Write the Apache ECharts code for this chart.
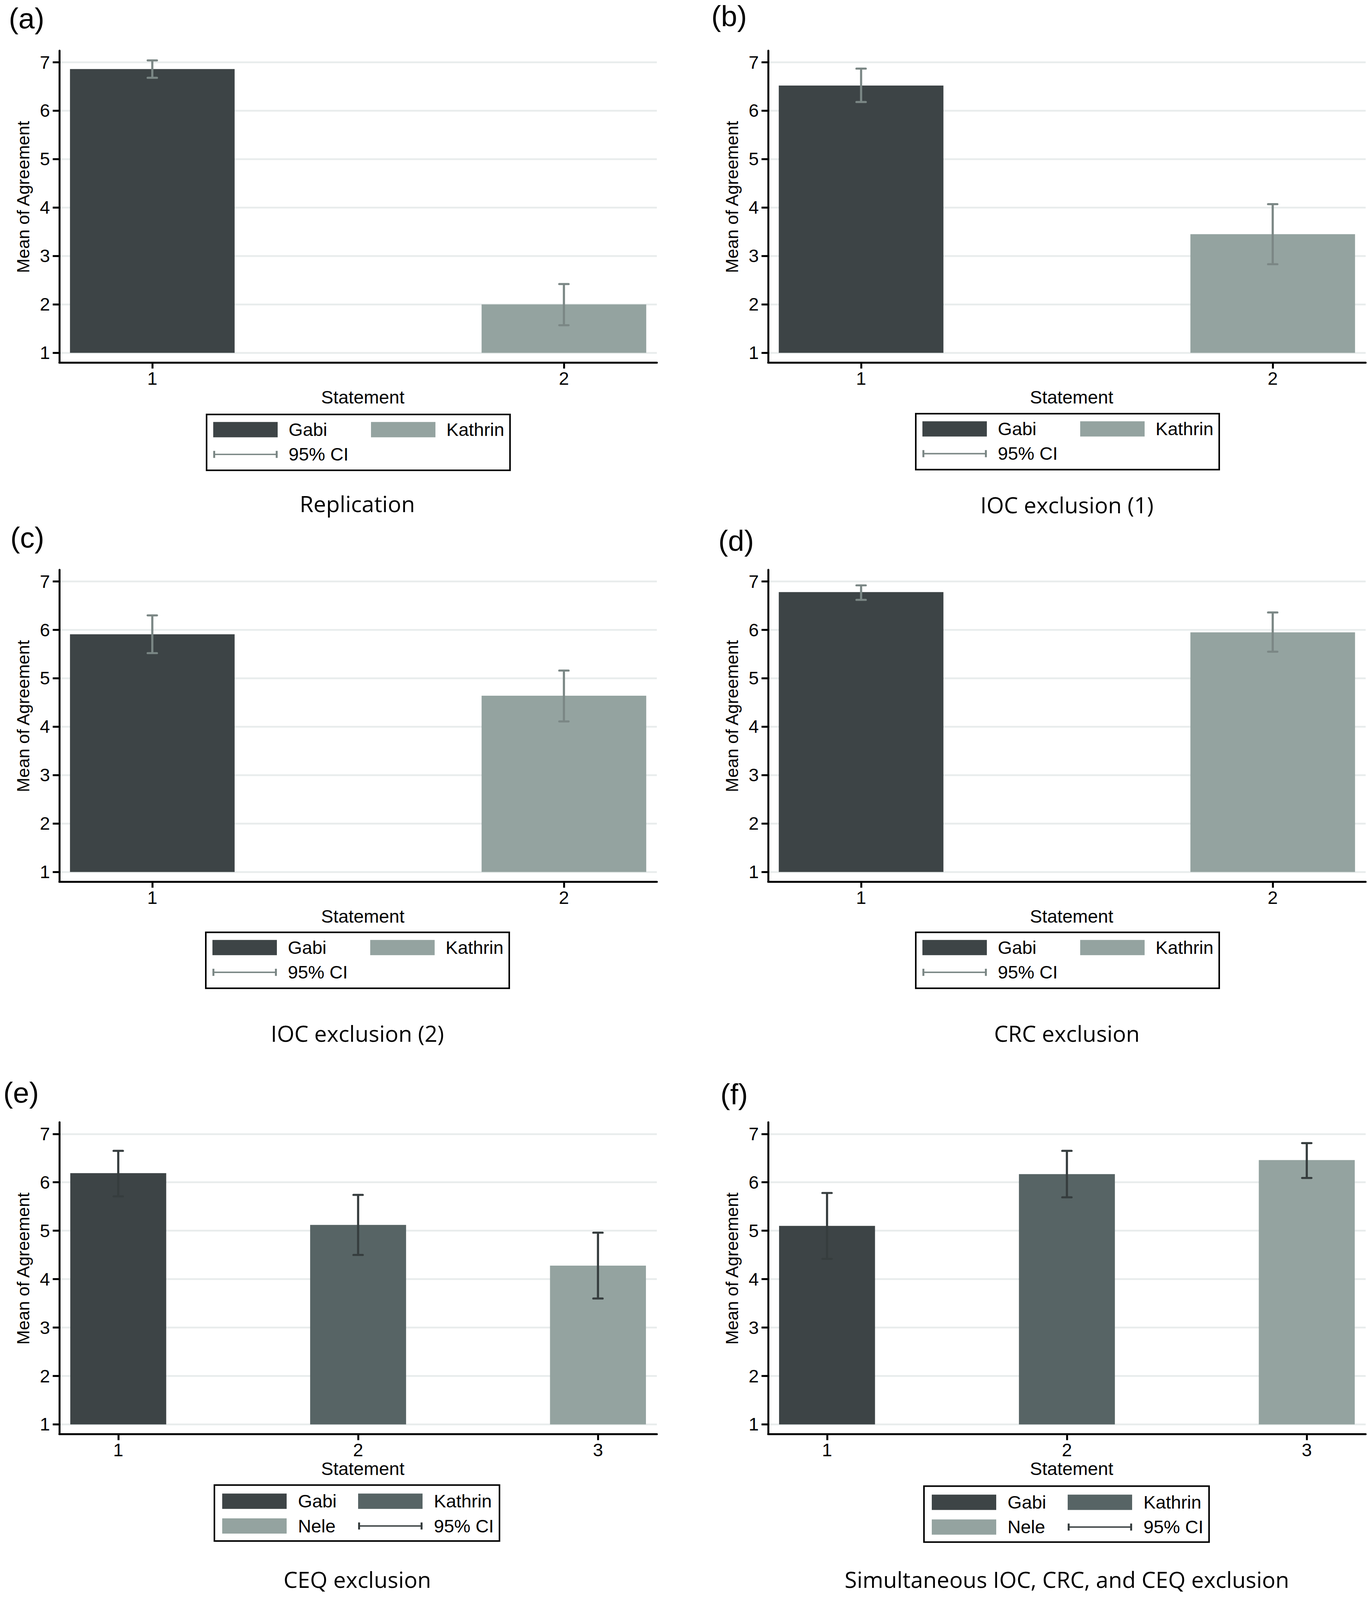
<!DOCTYPE html>
<html><head><meta charset="utf-8">
<script src="https://cdn.jsdelivr.net/npm/echarts@6/dist/echarts.min.js"></script>
<style>html,body{margin:0;padding:0;background:#fff;overflow:hidden}#c{width:100vw;height:100vh}</style>
</head><body><div id="c"></div>
<script>
// ---------------- data ----------------
const persons2 = ['Gabi', 'Kathrin'];
const persons3 = ['Gabi', 'Kathrin', 'Nele'];
const statements2 = [1, 2];
const statements3 = [1, 2, 3];
const yTickValues = [1, 2, 3, 4, 5, 6, 7];
const ciLabel = '95% CI';
const panelLetters = ['(a)', '(b)', '(c)', '(d)', '(e)', '(f)'];
const panelTitles = ['Replication', 'IOC exclusion (1)', 'IOC exclusion (2)', 'CRC exclusion', 'CEQ exclusion', 'Simultaneous IOC, CRC, and CEQ exclusion'];
const xAxisTitle = 'Statement';
const yAxisTitle = 'Mean of Agreement';

const meanA = [6.86, 2.00];       const loA = [6.68, 1.57]; const hiA = [7.04, 2.42];
const meanB = [6.52, 3.45];       const loB = [6.18, 2.83]; const hiB = [6.87, 4.07];
const meanC = [5.91, 4.64];       const loC = [5.52, 4.11]; const hiC = [6.30, 5.16];
const meanD = [6.78, 5.95];       const loD = [6.62, 5.55]; const hiD = [6.92, 6.36];
const meanE = [6.19, 5.12, 4.28]; const loE = [5.71, 4.50, 3.60]; const hiE = [6.65, 5.74, 4.96];
const meanF = [5.10, 6.17, 6.46]; const loF = [4.42, 5.69, 6.09]; const hiF = [5.78, 6.65, 6.81];

const panels = [
  { persons: persons2, statements: statements2, mean: meanA, lo: loA, hi: hiA },
  { persons: persons2, statements: statements2, mean: meanB, lo: loB, hi: hiB },
  { persons: persons2, statements: statements2, mean: meanC, lo: loC, hi: hiC },
  { persons: persons2, statements: statements2, mean: meanD, lo: loD, hi: hiD },
  { persons: persons3, statements: statements3, mean: meanE, lo: loE, hi: hiE },
  { persons: persons3, statements: statements3, mean: meanF, lo: loF, hi: hiF }
];

// ---------------- layout & style (in 3503x4498 reference frame, scaled to the viewport) ----------------
const REF_W = 3503, REF_H = 4498;
const VW = window.innerWidth || REF_W, VH = Math.min(window.innerHeight || REF_H, REF_H);
const SX = VW / REF_W, SY = VH / REF_H, SF = (SX + SY) / 2;
const px = v => v * SX, py = v => v * SY;

const FONT = 'Liberation Sans';
const TITLE_FONT = 'Open Sans';
const FS = 49 * SF;
const FS_ROT = 49 * SY;
const COL_LEFT = [152, 1967];
const GRID_W = 1530;
const ROW_TOP = [142.5, 1602, 3155];
const GRID_H = 876.6;
const Y_MIN = 0.8, Y_MAX = 7.24, BAR_BASE = 1;
const X_RANGE2 = [0.7742, 2.2258];
const X_RANGE3 = [0.7545, 3.2455];
const BAR_HALF = 0.2;
const COLORS2 = { Gabi: '#3d4446', Kathrin: '#94a3a0' };
const COLORS3 = { Gabi: '#3d4446', Kathrin: '#576465', Nele: '#94a3a0' };
const CI2 = '#7b8785', CI3 = '#363d3e';
const GRIDLINE = '#e8ecec';
const legendPos = [[529, 1165], [2345, 1163], [527, 2621], [2345, 2621], [549, 4175], [2366, 4178]];
const letterPos = [[68, 52], [1867, 46], [70, 1512], [1885, 1520], [54, 3072], [1880, 3076]];
const titlePos = [[915, 1416], [2732, 1419], [915, 2905], [2732, 2905], [915, 4440], [2732, 4440]];

const CI_ICON = 'path://M0,0M165,43M0,19.5L165,19.5L165,23.5L0,23.5Z M0,11.5L5,11.5L5,31.5L0,31.5Z M160,11.5L165,11.5L165,31.5L160,31.5Z';

function barRender(params, api) {
  const x = api.value(0), v = api.value(1);
  const p0 = api.coord([x - BAR_HALF, v]);
  const p1 = api.coord([x + BAR_HALF, BAR_BASE]);
  return { type: 'rect', shape: { x: p0[0], y: p0[1], width: p1[0] - p0[0], height: p1[1] - p0[1] },
           style: { fill: api.visual('color') } };
}
function ciRender(params, api) {
  const x = api.value(0), lo = api.value(1), hi = api.value(2);
  const a = api.coord([x, lo]), b = api.coord([x, hi]);
  const col = api.visual('color');
  const cw = px(12);
  return { type: 'group', children: [
    { type: 'line', shape: { x1: a[0], y1: a[1], x2: b[0], y2: b[1] }, style: { stroke: col, lineWidth: 5.5 } },
    { type: 'line', shape: { x1: a[0] - cw, y1: a[1], x2: a[0] + cw, y2: a[1] }, style: { stroke: col, lineWidth: 5.2, lineCap: 'round' } },
    { type: 'line', shape: { x1: b[0] - cw, y1: b[1], x2: b[0] + cw, y2: b[1] }, style: { stroke: col, lineWidth: 5.2, lineCap: 'round' } }
  ]};
}

const grid = [], xAxis = [], yAxis = [], series = [], legend = [], graphic = [];
panels.forEach((p, i) => {
  const col = i % 2, row = Math.floor(i / 2);
  const three = p.persons.length === 3;
  const colors = three ? COLORS3 : COLORS2;
  const ciColor = three ? CI3 : CI2;
  const xr = three ? X_RANGE3 : X_RANGE2;
  grid.push({ left: px(COL_LEFT[col]), top: py(ROW_TOP[row]), width: px(GRID_W), height: py(GRID_H), containLabel: false });
  xAxis.push({
    type: 'value', gridIndex: i, min: xr[0], max: xr[1],
    name: xAxisTitle, nameLocation: 'middle', nameGap: py(68),
    nameTextStyle: { fontFamily: FONT, fontSize: FS, color: '#000', lineHeight: FS, padding: [0, 0, 0, px(24)] },
    axisLine: { show: true, onZero: false, lineStyle: { color: '#000', width: 5 } },
    axisTick: { show: true, length: py(17), customValues: p.statements, lineStyle: { color: '#000', width: 5 } },
    axisLabel: { customValues: p.statements, margin: py(19), fontFamily: FONT, fontSize: FS, color: '#000' },
    splitLine: { show: false }
  });
  yAxis.push({
    type: 'value', gridIndex: i, min: Y_MIN, max: Y_MAX,
    name: yAxisTitle, nameLocation: 'middle', nameGap: px(70), nameRotate: 90,
    nameTextStyle: { fontFamily: FONT, fontSize: FS_ROT, color: '#000', padding: [0, 0, 0, py(54)] },
    axisLine: { show: true, onZero: false, lineStyle: { color: '#000', width: 5 } },
    axisTick: { show: true, length: px(17), customValues: yTickValues, lineStyle: { color: '#000', width: 5 } },
    axisLabel: { customValues: yTickValues, margin: px(24), fontFamily: FONT, fontSize: FS, color: '#000' },
    splitLine: { show: true, lineStyle: { color: GRIDLINE, width: 5 * SY } }
  });
  p.persons.forEach((name, k) => {
    series.push({
      type: 'custom', name: name, xAxisIndex: i, yAxisIndex: i,
      itemStyle: { color: colors[name] },
      renderItem: barRender,
      encode: { x: 0, y: 1 },
      data: [[p.statements[k], p.mean[k]]],
      z: 2, silent: true
    });
  });
  series.push({
    type: 'custom', name: ciLabel, xAxisIndex: i, yAxisIndex: i,
    itemStyle: { color: ciColor },
    renderItem: ciRender,
    encode: { x: 0, y: [1, 2] },
    data: p.statements.map((s, k) => [s, p.lo[k], p.hi[k]]),
    z: 3, silent: true
  });
  const itemW = px(165), gap = py(18), textPad = px(three ? 24 : 23);
  const pitch = px(three ? 348 : 404);
  const w1 = pitch - itemW - 5 - textPad - gap, w2 = px(155);
  const items = three
    ? [['Gabi', w1, 'rect', colors.Gabi], ['Kathrin', w2, 'rect', colors.Kathrin], ['Nele', w1, 'rect', colors.Nele], [ciLabel, w2, CI_ICON, ciColor]]
    : [['Gabi', w1, 'rect', colors.Gabi], ['Kathrin', w2, 'rect', colors.Kathrin], [ciLabel, w1, CI_ICON, ciColor]];
  legend.push({
    show: true, selectedMode: false, orient: 'horizontal',
    left: px(legendPos[i][0]), top: py(legendPos[i][1]), width: px(three ? 850 : 900),
    padding: three ? [py(19.5), px(13), py(16.5), px(20)] : [py(17), px(8), py(19), px(17)],
    itemWidth: itemW, itemHeight: py(43), itemGap: gap, symbolKeepAspect: false,
    borderColor: '#000', borderWidth: 4, backgroundColor: '#fff', borderRadius: 0,
    itemStyle: { borderWidth: 0 },
    textStyle: { fontFamily: FONT, fontSize: FS, color: '#000', lineHeight: py(43), padding: [0, 0, 0, textPad] },
    data: items.map(it => ({ name: it[0], icon: it[2], itemStyle: { color: it[3], borderWidth: 0 }, textStyle: { width: it[1] } }))
  });
  graphic.push({ type: 'text', x: px(letterPos[i][0]), y: py(letterPos[i][1]), silent: true,
    style: { text: panelLetters[i], font: (78 * SF).toFixed(1) + 'px "' + FONT + '"', fill: '#000', textAlign: 'center', textVerticalAlign: 'middle' } });
  graphic.push({ type: 'text', x: px(titlePos[i][0]), y: py(titlePos[i][1]), silent: true,
    style: { text: panelTitles[i], font: (60 * SF).toFixed(1) + 'px "' + TITLE_FONT + '"', fill: '#000', textAlign: 'center', textVerticalAlign: 'middle' } });
});

const chart = echarts.init(document.getElementById('c'), null, { renderer: 'svg', width: VW, height: VH });
chart.setOption({
  animation: false,
  backgroundColor: '#fff',
  textStyle: { fontFamily: FONT },
  grid, xAxis, yAxis, series, legend, graphic
});
</script></body></html>
